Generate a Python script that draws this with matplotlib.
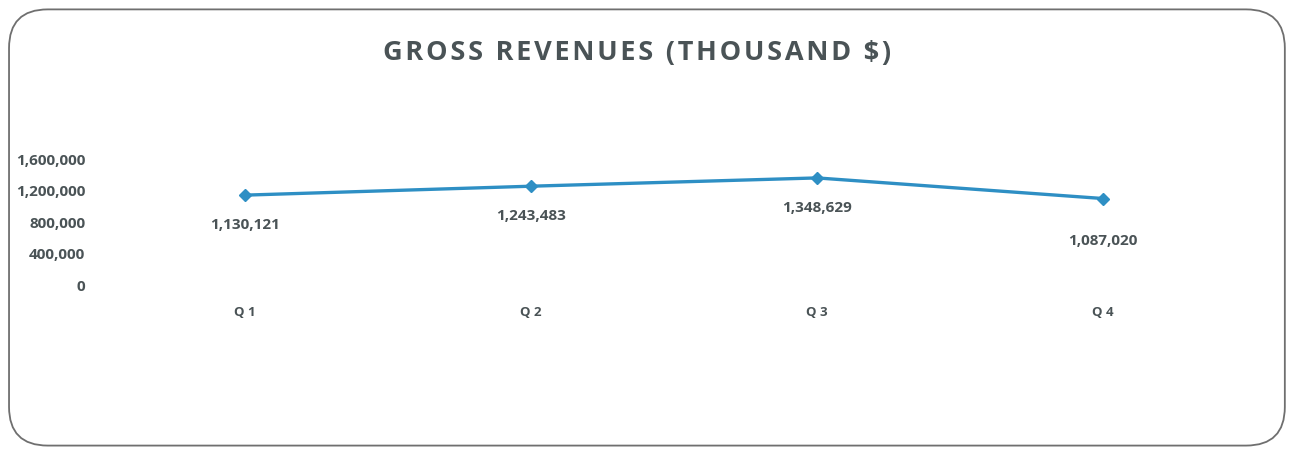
import matplotlib
matplotlib.use('Agg')
import matplotlib.pyplot as plt
from matplotlib.patches import FancyBboxPatch
from matplotlib.ticker import FuncFormatter

quarters = ['Q1', 'Q2', 'Q3', 'Q4']
revenues = [1130121, 1243483, 1348629, 1087020]
y_ticks = [0, 400000, 800000, 1200000, 1600000]

plt.rcParams['font.family'] = ['Open Sans', 'DejaVu Sans']
grey = '#4a5356'
blue = '#2e8fc4'

fig = plt.figure(figsize=(12.9, 4.52), dpi=100)

# rounded chart border
border = FancyBboxPatch((0.007, 0.012), 0.989, 0.965,
                        boxstyle='round,pad=0,rounding_size=0.03',
                        transform=fig.transFigure, fill=False,
                        edgecolor='#6f6f6f', linewidth=1.3,
                        mutation_aspect=1290 / 452)
fig.patches.append(border)

# title is a little letter-spaced in the original
title = 'GROSS REVENUES (THOUSAND $)'
fig.text(0.494, 0.882, '\u200a'.join(title), ha='center', va='center',
         fontsize=19.5, fontweight='bold', color=grey,
         family=['Open Sans', 'DejaVu Sans'])

ax = fig.add_axes([0.079, 0.369, 0.887, 0.279])
x = range(len(quarters))
ax.plot(x, revenues, color=blue, linewidth=2.4, marker='D', markersize=6.5)

# label offsets in points (last one sits lower in the original)
label_dy = [-21, -21, -21, -30]
for xi, v, dy in zip(x, revenues, label_dy):
    ax.annotate(f'{v:,}', (xi, v), xytext=(0, dy), textcoords='offset points',
                ha='center', va='center', fontsize=11, fontweight='bold', color=grey)

ax.set_xlim(-0.5, len(quarters) - 0.5)
ax.set_ylim(0, 1600000)
ax.set_yticks(y_ticks)
ax.yaxis.set_major_formatter(FuncFormatter(lambda v, p: f'{int(v):,}'))
ax.set_xticks(list(x))
ax.set_xticklabels([q[0] + ' ' + q[1] for q in quarters])
for lab in ax.get_yticklabels():
    lab.set_fontweight('bold')
    lab.set_color(grey)
    lab.set_fontsize(11)
for lab in ax.get_xticklabels():
    lab.set_fontweight('bold')
    lab.set_color(grey)
    lab.set_fontsize(9.5)
ax.tick_params(axis='both', length=0)
ax.tick_params(axis='x', pad=15)
ax.tick_params(axis='y', pad=12)
for s in ax.spines.values():
    s.set_visible(False)
ax.patch.set_alpha(0)

fig.savefig('out.png', dpi=100)
